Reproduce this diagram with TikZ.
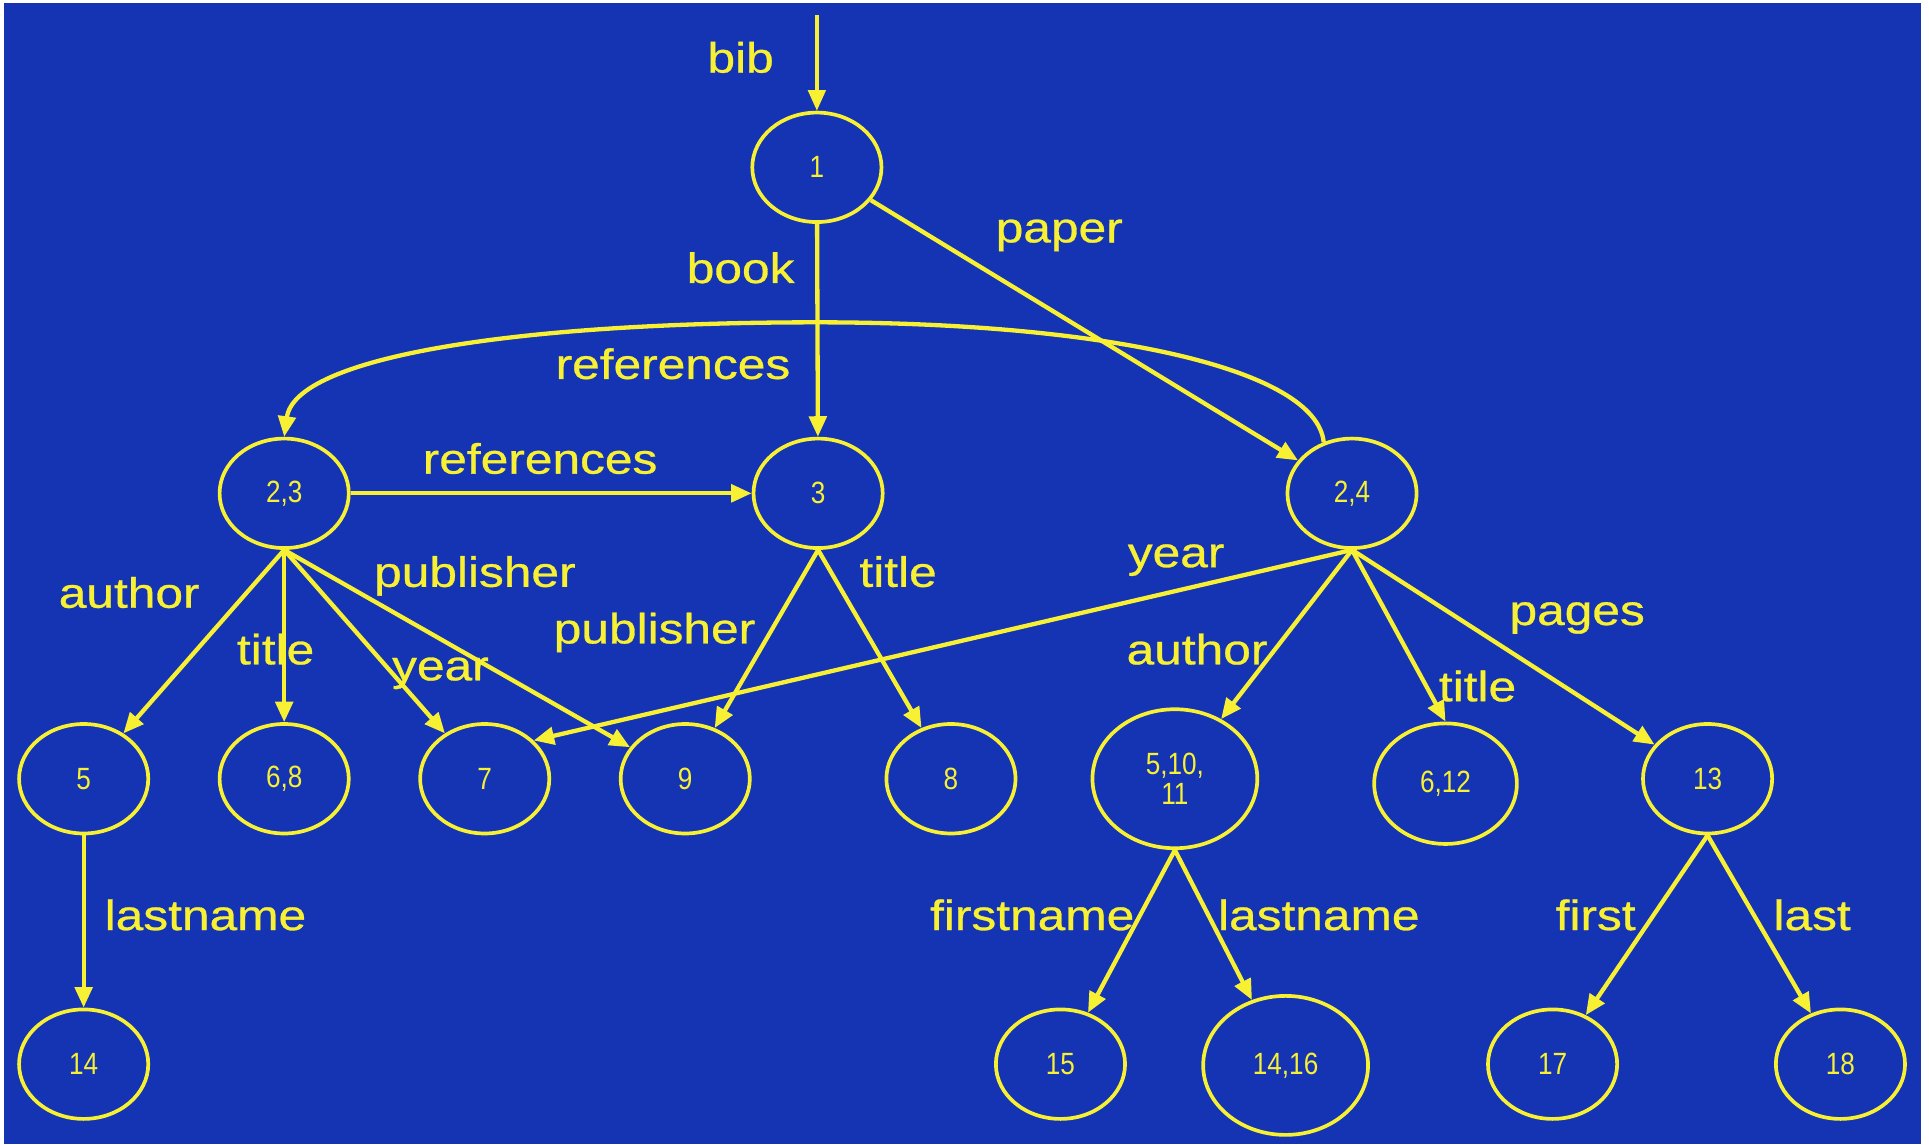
\documentclass[tikz,border=0pt]{standalone}
\usepackage{fontspec}
\setmainfont{Liberation Sans}
\newfontfamily\lblfont[FakeStretch=1.17,FakeBold=0.7]{Liberation Sans}
\newfontfamily\numfont[FakeStretch=0.85]{Liberation Sans}
\usetikzlibrary{shapes.geometric,arrows.meta}
\definecolor{bgblue}{RGB}{20,52,180}
\definecolor{ylw}{RGB}{248,240,50}
\begin{document}
\begin{tikzpicture}[x=0.6pt,y=-0.6pt,
  st/.style={ellipse,draw=ylw,line width=1.8pt,minimum width=63pt,minimum height=53.4pt,inner sep=0pt,text=ylw,align=center,font=\numfont\fontsize{15}{16}\selectfont},
  big/.style={st,minimum width=80.4pt,minimum height=67.8pt},
  mid/.style={st,minimum width=69.6pt,minimum height=58.8pt},
  edge/.style={draw=ylw,line width=2.1pt,-{Triangle[length=10pt,width=8.5pt]}},
  lbl/.style={text=ylw,font=\lblfont\fontsize{20.7}{24}\selectfont,anchor=base,inner sep=0pt}]
\useasboundingbox (0,0) rectangle (1568,930);
\fill[white] (0,0) rectangle (1568,930);
\fill[bgblue] (3,2.5) rectangle (1561.5,930);

% nodes
\node[st] (n1) at (664,136) {1};
\node[st] (n23) at (231,401) {2,3};
\node[st] (n3) at (665,401) {3};
\node[st] (n24) at (1099,401) {2,4};
\node[st] (n5) at (68,633) {5};
\node[st] (n68) at (231,633) {6,8};
\node[st] (n7) at (394,633) {7};
\node[st] (n9) at (557,633) {9};
\node[st] (n8) at (773,633) {8};
\node[big] (n51011) at (955,633) {5,10,\\[-1pt]11};
\node[mid] (n612) at (1175,637) {6,12};
\node[st] (n13) at (1388,633) {13};
\node[st] (n14) at (68,865) {14};
\node[st] (n15) at (862,865) {15};
\node[big] (n1416) at (1045,866) {14,16};
\node[st] (n17) at (1262,865) {17};
\node[st] (n18) at (1496,865) {18};
\coordinate (top) at (664,12);

% edges
\draw[edge,line width=1.6pt] (top) -- (n1);
\draw[edge] (n1) -- (n3);
\draw[edge] (n1) -- (n24);
\draw[edge] (n24.119) .. controls (1070,300) and (900,262) .. (664,262) .. controls (420,262) and (240,290) .. (n23.north);
\draw[edge] (n23) -- (n3);
\draw[edge] (n23.south) -- (n5);
\draw[edge] (n23.south) -- (n68);
\draw[edge] (n23.south) -- (n7);
\draw[edge] (n23.south) -- (n9);
\draw[edge] (n3.south) -- (n9);
\draw[edge] (n3.south) -- (n8);
\draw[edge] (n24.south) -- (n7.38);
\draw[edge] (n24.south) -- (n51011);
\draw[edge] (n24.south) -- (n612.north);
\draw[edge] (n24.south) -- (n13);
\draw[edge] (n5) -- (n14);
\draw[edge] (n51011.south) -- (n15);
\draw[edge] (n51011.south) -- (n1416);
\draw[edge] (n13.south) -- (n17);
\draw[edge] (n13.south) -- (n18);

% labels
\node[lbl] (lbib) at (602,59) {bib};
\node[lbl] (lbook) at (602,230) {book};
\node[lbl] (lpaper) at (861,197) {paper};
\node[lbl] (lref1) at (547,308) {references};
\node[lbl] (lref2) at (439,385) {references};
\node[lbl] (lauth1) at (105,494) {author};
\node[lbl] (lpub1) at (386,477) {publisher};
\node[lbl] (ltitle1) at (224,540) {title};
\node[lbl] (lyear1) at (358,553) {year};
\node[lbl] (lpub2) at (532,523) {publisher};
\node[lbl] (ltitle2) at (730,477) {title};
\node[lbl] (lyear2) at (956,461) {year};
\node[lbl] (lauth2) at (973,540) {author};
\node[lbl] (ltitle3) at (1201,570) {title};
\node[lbl] (lpages) at (1282,508) {pages};
\node[lbl] (llast1) at (167,756) {lastname};
\node[lbl] (lfirstn) at (839,756) {firstname};
\node[lbl] (llast2) at (1072,756) {lastname};
\node[lbl] (lfirst) at (1297,756) {first};
\node[lbl] (llast) at (1473,756) {last};
\end{tikzpicture}
\end{document}
